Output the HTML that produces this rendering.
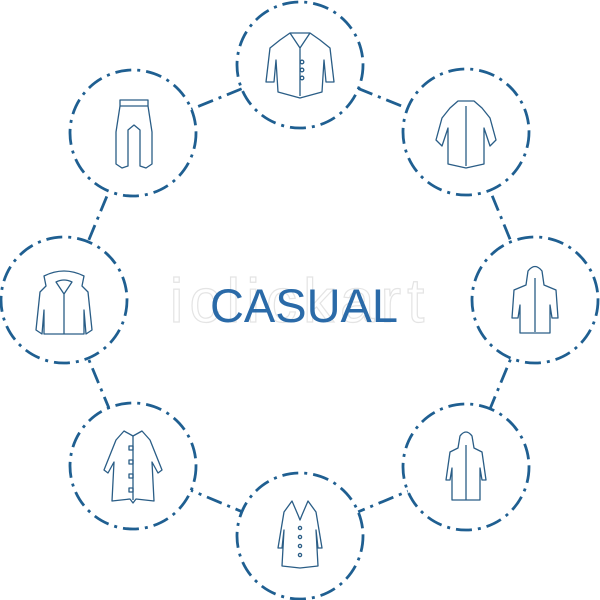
<!DOCTYPE html>
<html><head><meta charset="utf-8"><style>
html,body{margin:0;padding:0;background:#fff;width:600px;height:600px;overflow:hidden}
</style></head><body>
<svg width="600" height="600" viewBox="0 0 600 600" xmlns="http://www.w3.org/2000/svg">
<g stroke="#1f5f91" stroke-width="2.8" fill="none" stroke-dasharray="16 6 3 6">
<polygon points="300,65 466,132 535,300 466,467 300,536 133,466 64,300 133,133"/>
</g>
<g stroke="#1f5f91" stroke-width="2.8" fill="#fff" stroke-dasharray="16 6 3 6">
<circle cx="300" cy="65" r="63"/>
<circle cx="466" cy="132" r="63"/>
<circle cx="535" cy="300" r="63"/>
<circle cx="466" cy="467" r="63"/>
<circle cx="300" cy="536" r="63"/>
<circle cx="133" cy="466" r="63"/>
<circle cx="64" cy="300" r="63"/>
<circle cx="133" cy="133" r="63"/>
</g>
<text x="300" y="322" text-anchor="middle" font-family="Liberation Sans, sans-serif" font-size="62" fill="none" stroke="#e4e4e4" stroke-width="1.2" letter-spacing="6">iclickart</text>
<g stroke="#2a5d86" stroke-width="1.3" fill="none" stroke-linejoin="round">
<path d="M290,33 L310,33 L320,40 L330,48 L334,82 L326,82 L324,60 L322,92 L300,98 L278,92 L276,60 L274,82 L266,82 L270,48 L280,40 Z"/>
<path d="M290,33 L300,48 L310,33 M300,48 L300,96"/>
<circle cx="302" cy="62" r="1.8"/><circle cx="302" cy="70" r="1.8"/><circle cx="302" cy="78" r="1.8"/>
<path d="M458,101 L474,101 L482,108 L490,118 L496,140 L490,146 L484,128 L484,164 L466,168 L448,164 L448,128 L442,146 L436,140 L442,118 L450,108 Z"/>
<path d="M466,106 L466,166"/>
<path d="M528,271 Q535,262 542,271 L544,285 L556,290 L558,318 L552,318 L550,305 L550,333 L520,333 L520,305 L518,318 L512,318 L514,290 L526,285 Z"/>
<path d="M535,278 L535,332"/>
<path d="M460,436 Q466,428 472,436 L474,448 L482,452 L486,480 L482,480 L480,468 L480,500 L452,500 L452,468 L450,480 L446,480 L450,452 L458,448 Z"/>
<path d="M466,445 L466,500"/>
<path d="M292,501 L298,515 L300,520 L302,515 L308,501 L316,512 L322,548 L318,548 L316,530 L318,566 L300,568 L282,566 L284,530 L282,548 L278,548 L284,512 Z"/>
<circle cx="300" cy="528" r="1.6"/><circle cx="300" cy="537" r="1.6"/><circle cx="300" cy="546" r="1.6"/><circle cx="300" cy="555" r="1.6"/>
<path d="M124,431 L133,436 L142,431 L150,440 L162,470 L158,473 L152,462 L154,501 L136,499 L133,503 L130,499 L112,501 L114,462 L108,473 L104,470 L116,440 Z"/>
<path d="M133,436 L133,500"/>
<rect x="129" y="446" width="4" height="4"/><rect x="129" y="460" width="4" height="4"/><rect x="129" y="474" width="4" height="4"/><rect x="129" y="488" width="4" height="4"/>
<path d="M120,100 L148,100 L148,106 L152,132 L152,164 L146,168 L140,166 L140,130 L134,125 L128,130 L128,166 L122,168 L116,164 L116,132 L120,106 Z M120,106 L148,106"/>
<path d="M44,276 Q64,266 84,276 L82,286 L88,292 L92,330 L86,334 L84,310 L84,334 L44,334 L44,310 L42,334 L36,330 L40,292 L46,286 Z"/>
<path d="M56,282 Q64,278 72,282 L64,294 Z M64,294 L64,334"/>
</g>
<text x="304" y="322" text-anchor="middle" font-family="Liberation Sans, sans-serif" font-size="47" fill="#2a6aa8">CASUAL</text>
</svg>
</body></html>
